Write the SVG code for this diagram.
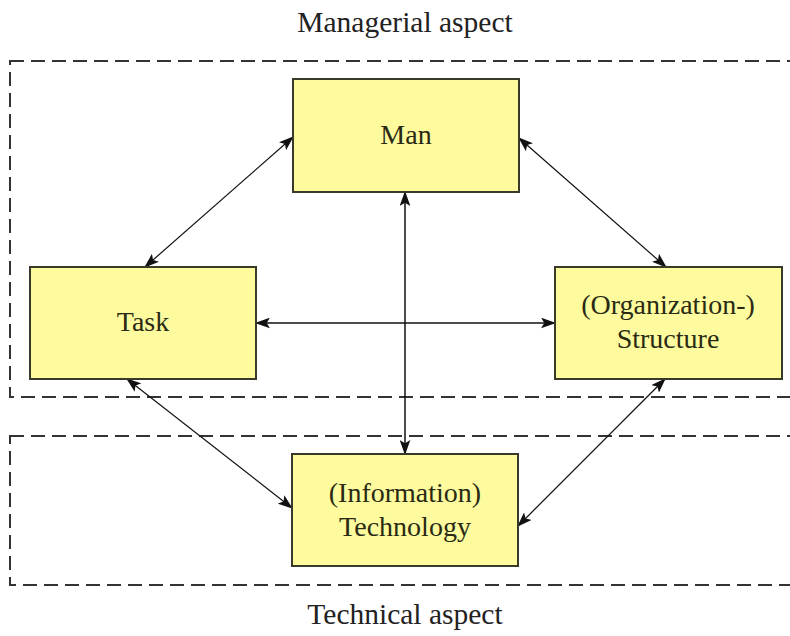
<svg xmlns="http://www.w3.org/2000/svg" width="790" height="636" viewBox="0 0 790 636">
  <style>
    .zone { fill: none; stroke: #333; stroke-width: 2; stroke-dasharray: 14 7; }
    .box { fill: #fdfb9e; stroke: #3a3a2a; stroke-width: 2; }
    .label { font-family: "Liberation Serif", "Times New Roman", serif; font-size: 28px; fill: #2a2a14; text-anchor: middle; }
    .heading { font-family: "Liberation Serif", "Times New Roman", serif; font-size: 29.5px; fill: #222; text-anchor: middle; }
    .link { stroke: #111; stroke-width: 1.5; fill: none; marker-start: url(#head); marker-end: url(#head); }
    .thin { stroke-width: 1.2; }
  </style>
  <defs>
    <marker id="head" viewBox="0 0 14 10" refX="13" refY="5" markerWidth="15" markerHeight="11" markerUnits="userSpaceOnUse" orient="auto-start-reverse">
      <path d="M0,0 L14,5 L0,10 L3,5 Z" fill="#111"/>
    </marker>
  </defs>

  <rect width="790" height="636" fill="#fff"/>

  <!-- aspect zones -->
  <g id="managerial-zone">
    <rect class="zone" x="10" y="61" width="800" height="336"/>
    <text class="heading" x="405" y="32">Managerial aspect</text>
  </g>
  <g id="technical-zone">
    <rect class="zone" x="10" y="436" width="800" height="149"/>
    <text class="heading" x="405" y="624">Technical aspect</text>
  </g>

  <!-- connectors -->
  <g id="connectors">
    <line class="link thin" x1="145" y1="267" x2="293" y2="137"/>
    <line class="link thin" x1="519" y1="138" x2="666" y2="267"/>
    <line class="link" x1="256" y1="323" x2="555" y2="323"/>
    <line class="link" x1="405" y1="192" x2="405" y2="454"/>
    <line class="link thin" x1="127" y1="379" x2="292" y2="508"/>
    <line class="link thin" x1="665" y1="379" x2="518" y2="526"/>
  </g>

  <!-- nodes -->
  <g id="man">
    <rect class="box" x="293" y="79" width="226" height="113"/>
    <text class="label" x="406" y="144">Man</text>
  </g>
  <g id="task">
    <rect class="box" x="30" y="267" width="226" height="112"/>
    <text class="label" x="143" y="331">Task</text>
  </g>
  <g id="structure">
    <rect class="box" x="555" y="267" width="227" height="112"/>
    <text class="label" x="668" y="314">(Organization-)</text>
    <text class="label" x="668" y="348">Structure</text>
  </g>
  <g id="technology">
    <rect class="box" x="292" y="454" width="226" height="112"/>
    <text class="label" x="405" y="502">(Information)</text>
    <text class="label" x="405" y="536">Technology</text>
  </g>
</svg>
